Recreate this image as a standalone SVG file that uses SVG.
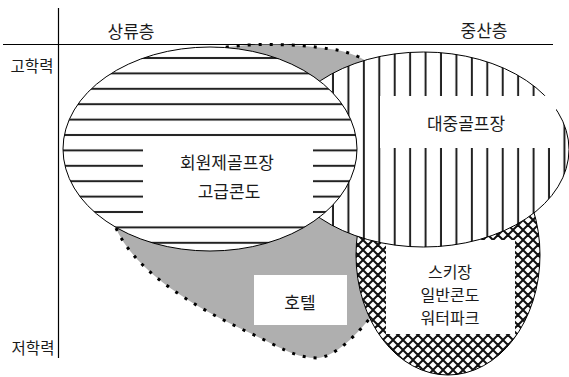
<svg xmlns="http://www.w3.org/2000/svg" width="569" height="377" viewBox="0 0 569 377">
<style>
.lbl{font-family:"Noto Sans CJK KR","Noto Sans",sans-serif;fill:#1a1a1a;text-anchor:middle;dominant-baseline:central}
.big{font-size:17px}
.mid{font-size:16px}
.small{font-size:15.5px}
.outline{fill:none;stroke:#000;stroke-width:1}
.dots{fill:none;stroke:#000;stroke-width:3;stroke-dasharray:3 8}
.box{fill:#fff;stroke:none}
.axis{stroke:#000;stroke-width:1.2;fill:none}
</style>
<defs>
<pattern id="hstripe" patternUnits="userSpaceOnUse" x="0" y="50.3" width="20" height="15.4">
<rect width="20" height="15.4" fill="#fff"/>
<line x1="0" y1="7.7" x2="20" y2="7.7" stroke="#222" stroke-width="2"/>
</pattern>
<pattern id="vstripe" patternUnits="userSpaceOnUse" x="325.3" y="0" width="15.43" height="20">
<rect width="15.43" height="20" fill="#fff"/>
<line x1="7.7" y1="0" x2="7.7" y2="20" stroke="#222" stroke-width="2"/>
</pattern>
<pattern id="xhatch" patternUnits="userSpaceOnUse" x="3" y="0" width="10" height="10">
<rect width="10" height="10" fill="#fff"/>
<path d="M0,0L10,10M10,0L0,10M5,-5L15,5M-5,5L5,15M-5,5L5,-5M5,15L15,5" stroke="#111" stroke-width="2" fill="none"/>
</pattern>
</defs>

<g id="axes">
<line class="axis" x1="58.5" y1="8" x2="58.5" y2="358"/>
<line class="axis" x1="3" y1="44.5" x2="553" y2="44.5"/>
<text class="lbl big" x="131" y="30">상류층</text>
<text class="lbl big" x="484" y="29">중산층</text>
<text class="lbl small" x="32" y="65">고학력</text>
<text class="lbl small" x="33" y="347">저학력</text>
</g>

<g id="connectors"></g>

<g id="hotel">
<path d="M215,49 C250,42 300,44 330,49 C345,51 355,54 370,63 L400,100 L300,120 L227,60 Z" fill="#afafaf"/>
<path d="M112,218 C128,268 190,305 250,333 C280,347 295,358 318,358 C335,356 355,338 378,308 L380,250 L340,200 L200,240 Z" fill="#afafaf"/>
<path class="dots" d="M215,49 C250,42 300,44 330,49 C345,51 355,54 370,63"/>
<path class="dots" d="M112,218 C128,268 190,305 250,333 C280,347 295,358 318,358 C335,356 355,338 378,308"/>
<rect class="box" x="254" y="275" width="93" height="50"/>
<text class="lbl big" x="300" y="301">호텔</text>
</g>

<g id="ski">
<ellipse cx="448" cy="255" rx="92" ry="120" fill="url(#xhatch)"/>
<ellipse class="outline" cx="448" cy="255" rx="92" ry="120"/>
<rect class="box" x="386" y="240" width="129" height="94"/>
<text class="lbl mid" x="450" y="271">스키장</text>
<text class="lbl mid" x="450" y="294">일반콘도</text>
<text class="lbl mid" x="450" y="317">워터파크</text>
</g>

<g id="public-golf">
<ellipse cx="423.5" cy="149.5" rx="145.5" ry="97.5" fill="url(#vstripe)"/>
<ellipse class="outline" cx="423.5" cy="149.5" rx="145.5" ry="97.5"/>
<rect class="box" x="380" y="96" width="176" height="52"/>
<text class="lbl big" x="466" y="122">대중골프장</text>
</g>

<g id="member-golf">
<ellipse cx="210" cy="149" rx="147" ry="102" fill="url(#hstripe)"/>
<ellipse class="outline" cx="210" cy="149" rx="147" ry="102"/>
<rect class="box" x="143" y="142" width="170" height="78"/>
<text class="lbl big" x="227" y="161">회원제골프장</text>
<text class="lbl big" x="229" y="190">고급콘도</text>
</g>
</svg>
